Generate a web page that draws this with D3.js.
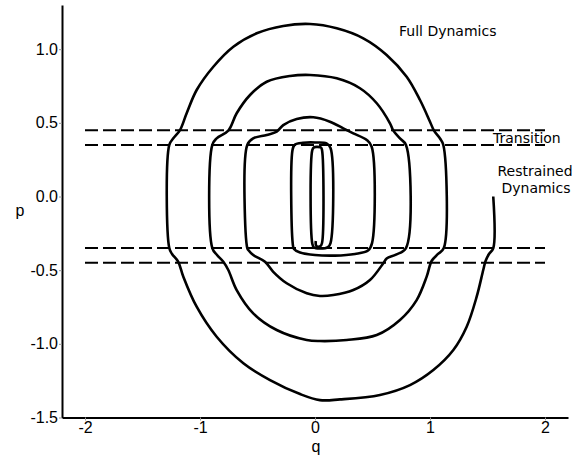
<!DOCTYPE html>
<html>
<head>
<meta charset="utf-8">
<script src="https://cdn.jsdelivr.net/npm/d3@7"></script>
<style>
  body { margin: 0; background: #fff; }
  svg { display: block; }
  .tick text { font-family: "Liberation Sans", Arial, sans-serif; font-size: 16px; fill: #000; }
  .note { font-family: "DejaVu Sans", sans-serif; font-size: 14px; fill: #000; }
</style>
</head>
<body>
<svg id="chart" width="579" height="457"></svg>
<script>
// trajectory, in (q, p) order along the spiral
const qValues = [
  1.550, 1.550, 1.513, 1.484, 1.463, 1.406, 1.319, 1.203, 1.029, 0.826, 0.565, 0.217, 0.043,
  -0.130, -0.391, -0.623, -0.855, -1.029, -1.145, -1.189, -1.243, -1.267,
  -1.267, -1.232, -1.174, -1.116, -1.029, -0.884, -0.710, -0.507, -0.276, -0.043, 0.189,
  0.420, 0.623, 0.797, 0.913, 1.000, 1.035, 1.087, 1.116,
  1.120, 1.070, 1.015, 0.971, 0.884, 0.739, 0.537, 0.276, 0.043, -0.072, -0.333, -0.537,
  -0.681, -0.754, -0.797, -0.852, -0.893,
  -0.893, -0.855, -0.754, -0.681, -0.565, -0.420, -0.217, -0.043, 0.189, 0.391, 0.537,
  0.652, 0.681, 0.739, 0.791,
  0.791, 0.704, 0.623, 0.594, 0.478, 0.333, 0.159, 0.043, -0.072, -0.246, -0.363, -0.435,
  -0.537, -0.580, -0.589,
  -0.589, -0.537, -0.420, -0.333, -0.276, -0.159, -0.015, 0.130, 0.246, 0.333, 0.450, 0.493,
  0.496, 0.461, 0.348, 0.174, 0.000, -0.130, -0.183, -0.194,
  -0.194, -0.174, -0.104, 0.000, 0.100, 0.135,
  0.135, 0.113, 0.043, -0.009, -0.023,
  -0.023, -0.009, 0.017, 0.052, 0.061,
  0.061, 0.048, 0.017, 0.007, 0.007
];
const pValues = [
  0.000, -0.352, -0.390, -0.436, -0.499, -0.680, -0.884, -1.042, -1.178, -1.280, -1.347, -1.377, -1.382,
  -1.341, -1.246, -1.132, -0.952, -0.748, -0.544, -0.443, -0.390, -0.350,
  0.350, 0.395, 0.451, 0.565, 0.723, 0.881, 1.017, 1.108, 1.158, 1.171, 1.142,
  1.074, 0.961, 0.813, 0.655, 0.508, 0.447, 0.394, 0.350,
  -0.350, -0.390, -0.436, -0.544, -0.703, -0.838, -0.940, -0.974, -0.981, -0.974, -0.906, -0.793,
  -0.635, -0.499, -0.443, -0.397, -0.350,
  0.350, 0.395, 0.447, 0.565, 0.689, 0.779, 0.818, 0.825, 0.802, 0.735, 0.633,
  0.497, 0.447, 0.394, 0.350,
  -0.350, -0.394, -0.420, -0.453, -0.567, -0.635, -0.669, -0.675, -0.657, -0.589, -0.511, -0.443,
  -0.397, -0.363, -0.350,
  0.350, 0.395, 0.418, 0.440, 0.485, 0.526, 0.538, 0.508, 0.463, 0.429, 0.384, 0.338,
  -0.316, -0.367, -0.390, -0.401, -0.397, -0.380, -0.356, -0.316,
  0.322, 0.353, 0.365, 0.367, 0.361, 0.329,
  -0.316, -0.343, -0.353, -0.346, -0.322,
  0.316, 0.334, 0.337, 0.333, 0.316,
  -0.316, -0.336, -0.338, -0.326, -0.302
];

const regionLevels = [0.45, 0.35, -0.35, -0.45];
const regionSpan = [-2, 2];
const xTicks = [-2, -1, 0, 1, 2];
const yTicks = [-1.5, -1.0, -0.5, 0.0, 0.5, 1.0];

const width = 579, height = 457;
const svg = d3.select("#chart");

const x = d3.scaleLinear().domain([-2.2, 2.2]).range([62, 568]);
const y = d3.scaleLinear().domain([-1.5, 1.3]).range([417.5, 5]);

// plain hyphen for negatives, like the original
const hyphen = (fmt) => (d) => fmt(d).replace("\u2212", "-");

// dashed region borders
svg.append("g")
  .selectAll("line")
  .data(regionLevels)
  .enter()
  .append("line")
  .attr("x1", x(regionSpan[0]))
  .attr("x2", x(regionSpan[1]))
  .attr("y1", (d) => y(d))
  .attr("y2", (d) => y(d))
  .attr("stroke", "#000")
  .attr("stroke-width", 2)
  .attr("stroke-dasharray", "13,5");

// the spiral
const points = qValues.map((q, i) => [q, pValues[i]]);
const line = d3.line()
  .x((d) => x(d[0]))
  .y((d) => y(d[1]))
  .curve(d3.curveCatmullRom.alpha(0.5));

svg.append("path")
  .datum(points)
  .attr("d", line)
  .attr("fill", "none")
  .attr("stroke", "#000")
  .attr("stroke-width", 2.6)
  .attr("stroke-linejoin", "round");

// axes
const xAxis = svg.append("g")
  .attr("transform", `translate(0,${y(-1.5)})`)
  .call(d3.axisBottom(x).tickValues(xTicks).tickFormat(hyphen(d3.format("d"))).tickSize(3).tickSizeOuter(0).tickPadding(1));
const yAxis = svg.append("g")
  .attr("transform", `translate(${x(-2.2)},0)`)
  .call(d3.axisLeft(y).tickValues(yTicks).tickFormat(hyphen(d3.format(".1f"))).tickSize(3).tickSizeOuter(0).tickPadding(1));

[xAxis, yAxis].forEach((g) => {
  g.select(".domain").attr("stroke", "#000").attr("stroke-width", 2);
  g.selectAll(".tick line").attr("stroke", "#999");
  g.selectAll(".tick text").attr("fill", "#000");
});

svg.append("text")
  .attr("x", 316)
  .attr("y", 452)
  .attr("text-anchor", "middle")
  .style("font-family", "Liberation Sans, Arial, sans-serif")
  .style("font-size", "16px")
  .text("q");
svg.append("text")
  .attr("x", 20)
  .attr("y", 216)
  .attr("text-anchor", "middle")
  .style("font-family", "Liberation Sans, Arial, sans-serif")
  .style("font-size", "16px")
  .text("p");

// region notes
svg.append("text").attr("class", "note").attr("x", 399).attr("y", 35.5).text("Full Dynamics");
svg.append("text").attr("class", "note").attr("x", 493).attr("y", 143).text("Transition");
svg.append("text").attr("class", "note").attr("x", 535).attr("y", 176).attr("text-anchor", "middle").text("Restrained");
svg.append("text").attr("class", "note").attr("x", 536).attr("y", 192.5).attr("text-anchor", "middle").text("Dynamics");
</script>
</body>
</html>
